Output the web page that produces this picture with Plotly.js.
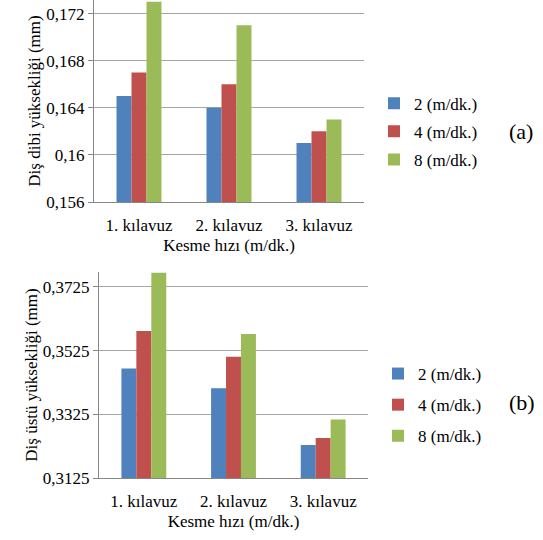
<!DOCTYPE html>
<html>
<head>
<meta charset="utf-8">
<script src="https://cdn.plot.ly/plotly-3.0.1.min.js"></script>
<style>
html,body{margin:0;padding:0;background:#fff;}
#chart{width:543px;height:540px;}
#chart svg text{fill:#000 !important;}
</style>
</head>
<body>
<div id="chart"></div>
<script>
// ---- data ----
const categories = ['1. kılavuz', '2. kılavuz', '3. kılavuz'];
const seriesNames = ['2 (m/dk.)', '4 (m/dk.)', '8 (m/dk.)'];
// (a) Diş dibi yüksekliği (mm)
const rootHeight2 = [0.1650, 0.1640, 0.1610];
const rootHeight4 = [0.1670, 0.1660, 0.1620];
const rootHeight8 = [0.1730, 0.1710, 0.1630];
// (b) Diş üstü yüksekliği (mm)
const crestHeight2 = [0.3469, 0.3407, 0.3229];
const crestHeight4 = [0.3587, 0.3506, 0.3251];
const crestHeight8 = [0.3770, 0.3577, 0.3309];
// tick labels
const rootTickVals = [0.156, 0.160, 0.164, 0.168, 0.172];
const rootTickText = ['0,156', '0,16', '0,164', '0,168', '0,172'];
const crestTickVals = [0.3125, 0.3325, 0.3525, 0.3725];
const crestTickText = ['0,3125', '0,3325', '0,3525', '0,3725'];

const colors = ['#4F81BD', '#C0504D', '#9BBB59'];
const FONT = 'Liberation Serif';

const rootSeries = [rootHeight2, rootHeight4, rootHeight8];
const crestSeries = [crestHeight2, crestHeight4, crestHeight8];

const traces = [];
rootSeries.forEach((vals, i) => {
  traces.push({
    type: 'bar', x: categories, y: vals, name: seriesNames[i],
    marker: {color: colors[i]}, xaxis: 'x', yaxis: 'y',
    legend: 'legend', legendgroup: 'a' + i, hoverinfo: 'y'
  });
});
crestSeries.forEach((vals, i) => {
  traces.push({
    type: 'bar', x: categories, y: vals, name: seriesNames[i],
    marker: {color: colors[i]}, xaxis: 'x2', yaxis: 'y2',
    legend: 'legend2', legendgroup: 'b' + i, hoverinfo: 'y'
  });
});

const W = 543, H = 540;
const px = v => v / W;
const py = v => (H - v) / H;
const txt = (size) => ({family: FONT, size: size});

function xAxisDef(domain, anchor) {
  return {
    type: 'category', showgrid: false, showline: true, linecolor: '#868686', linewidth: 1,
    ticks: '', tickfont: txt(17), zeroline: false, ticklabelstandoff: 8,
    domain: domain, anchor: anchor,
    title: {text: 'Kesme hızı (m/dk.)', font: txt(17), standoff: 4}
  };
}
function yAxisDef(domain, anchor, range, vals, text, title) {
  return {
    showgrid: true, gridcolor: '#a6a6a6', gridwidth: 1, showline: true, linecolor: '#868686',
    linewidth: 1, ticks: 'outside', ticklen: 5, tickcolor: '#868686', zeroline: false,
    tickfont: txt(17), domain: domain, anchor: anchor, range: range,
    tickvals: vals, ticktext: text,
    title: {text: title, font: txt(17)}
  };
}

const layout = {
  width: W, height: H,
  margin: {l: 0, r: 0, t: 0, b: 0},
  paper_bgcolor: '#fff', plot_bgcolor: '#fff',
  barmode: 'group', bargap: 0.5, bargroupgap: 0,
  showlegend: true,
  xaxis: xAxisDef([px(94), px(364)], 'y'),
  yaxis: yAxisDef([py(202), py(0)], 'x', [0.156, 0.17315], rootTickVals, rootTickText,
                  'Diş dibi yüksekliği (mm)'),
  xaxis2: xAxisDef([px(99), px(368)], 'y2'),
  yaxis2: yAxisDef([py(478), py(272)], 'x2', [0.3125, 0.3772], crestTickVals, crestTickText,
                   'Diş üstü yüksekliği (mm)'),
  legend: {
    x: px(374), xanchor: 'left', y: py(131.7), yanchor: 'middle',
    font: txt(17), bgcolor: 'rgba(0,0,0,0)', tracegroupgap: 3, itemwidth: 30
  },
  legend2: {
    x: px(378), xanchor: 'left', y: py(405), yanchor: 'middle',
    font: txt(17), bgcolor: 'rgba(0,0,0,0)', tracegroupgap: 6, itemwidth: 30
  },
  annotations: [
    {text: '(a)', x: px(521), y: py(131.7), xref: 'paper', yref: 'paper',
     showarrow: false, xanchor: 'center', yanchor: 'middle', font: txt(22)},
    {text: '(b)', x: px(522), y: py(403), xref: 'paper', yref: 'paper',
     showarrow: false, xanchor: 'center', yanchor: 'middle', font: txt(22)}
  ]
};

Plotly.newPlot('chart', traces, layout, {displayModeBar: false, staticPlot: true});
</script>
</body>
</html>
